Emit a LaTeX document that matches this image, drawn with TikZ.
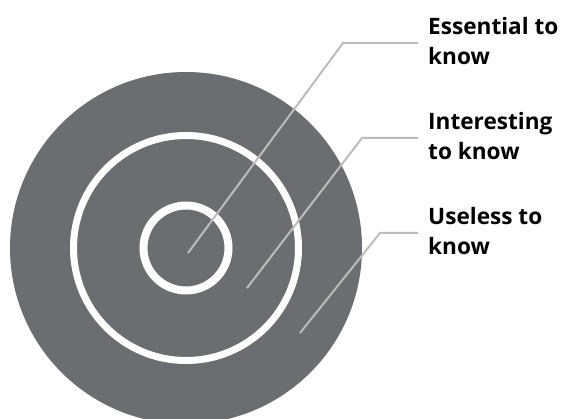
\documentclass[tikz,border=0pt]{standalone}
\usepackage{fontspec}
\setmainfont{Open Sans}
\definecolor{disk}{RGB}{108,109,112}
\definecolor{leader}{RGB}{188,188,188}
\begin{document}
\begin{tikzpicture}[x=1pt,y=-1pt,
  ringline/.style={draw=white},
  leadline/.style={draw=leader,line width=2pt},
  label/.style={anchor=west,align=left,inner sep=0pt,font=\fontsize{22.6}{29.5}\selectfont\bfseries}]
\useasboundingbox (0,0) rectangle (561,419);
\begin{scope}
\clip (0,0) rectangle (561,419);
\node[circle,fill=disk,minimum size=352pt,inner sep=0pt] (outer) at (186,248) {};
\draw[ringline,line width=7pt] (outer.center) circle[radius=112.5];
\draw[ringline,line width=8pt] (outer.center) circle[radius=42.5];
\end{scope}
\coordinate (p1) at (188,253);
\coordinate (b1) at (343,43);
\coordinate (p2) at (247,288);
\coordinate (b2) at (362,138);
\coordinate (p3) at (300,333);
\coordinate (b3) at (380,233);
\node[label] (t1) at (428,41) {Essential to\\know};
\node[label] (t2) at (428,136) {Interesting\\to know};
\node[label] (t3) at (428,231) {Useless to\\know};
\draw[leadline] (p1) -- (b1) -- ([xshift=-10pt]b1 -| t1.west);
\draw[leadline] (p2) -- (b2) -- ([xshift=-10pt]b2 -| t2.west);
\draw[leadline] (p3) -- (b3) -- ([xshift=-10pt]b3 -| t3.west);
\end{tikzpicture}
\end{document}
